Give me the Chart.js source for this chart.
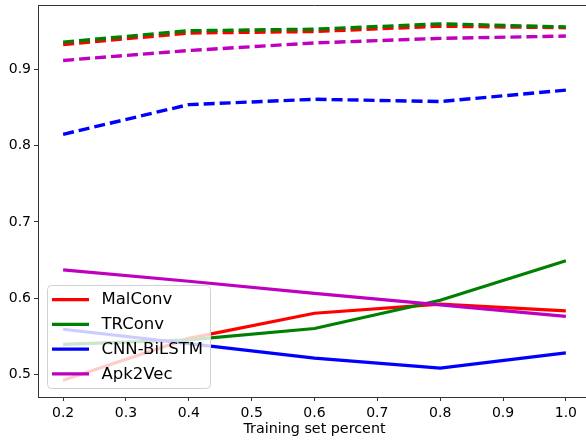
<!DOCTYPE html>
<html>
<head>
<meta charset="utf-8">
<script src="https://cdn.jsdelivr.net/npm/chart.js@4"></script>
<style>
html,body{margin:0;padding:0;background:#fff;overflow:hidden;width:586px;height:441px;}
#wrap{position:absolute;left:0;top:0;width:600px;height:441px;}
</style>
</head>
<body>
<div id="wrap"><canvas id="c" width="600" height="441"></canvas></div>
<script>
const trainPercent = [0.2, 0.4, 0.6, 0.8, 1.0];
const xTicks = [0.2, 0.3, 0.4, 0.5, 0.6, 0.7, 0.8, 0.9, 1.0];
const yTicks = [0.5, 0.6, 0.7, 0.8, 0.9];
const modelNames = ['MalConv', 'TRConv', 'CNN-BiLSTM', 'Apk2Vec'];
// dashed (upper) series
const malconvDashed = [0.933, 0.948, 0.950, 0.957, 0.955];
const trconvDashed  = [0.936, 0.951, 0.953, 0.960, 0.956];
const cnnDashed     = [0.815, 0.854, 0.861, 0.858, 0.873];
const apkDashed     = [0.912, 0.925, 0.935, 0.941, 0.944];
// solid (lower) series
const malconvSolid = [0.492, 0.547, 0.580, 0.592, 0.583];
const trconvSolid  = [0.539, 0.545, 0.560, 0.597, 0.649];
const cnnSolid     = [0.559, 0.540, 0.521, 0.508, 0.528];
const apkSolid     = [0.637, 0.622, 0.606, 0.591, 0.576];

const colors = ['#ff0000', '#008000', '#0000ff', '#bf00bf'];
const pts = arr => arr.map((v, i) => ({x: trainPercent[i], y: v}));
const solidSets = [malconvSolid, trconvSolid, cnnSolid, apkSolid];
const dashedSets = [malconvDashed, trconvDashed, cnnDashed, apkDashed];

const datasets = [];
// Chart.js draws dataset 0 on top; push in reverse plotting order
for (let i = 3; i >= 0; i--) {
  datasets.push({label: modelNames[i], data: pts(solidSets[i]), borderColor: colors[i],
    borderWidth: 3.2, pointRadius: 0, tension: 0, fill: false});
}
for (let i = 3; i >= 0; i--) {
  datasets.push({label: modelNames[i] + ' (dashed)', data: pts(dashedSets[i]), borderColor: colors[i],
    borderWidth: 3.4, borderDash: [11, 5], pointRadius: 0, tension: 0, fill: false});
}

const FONT = "'DejaVu Sans', sans-serif";

const framePlugin = {
  id: 'frame',
  afterDatasetsDraw(chart) {
    const {ctx, chartArea: a} = chart;
    ctx.save();
    ctx.strokeStyle = '#333';
    ctx.lineWidth = 1;
    ctx.beginPath();
    ctx.moveTo(a.left, a.top + 0.5);
    ctx.lineTo(a.right, a.top + 0.5);
    ctx.stroke();
    ctx.restore();
  },
  afterDraw(chart) {
    const {ctx, chartArea: a} = chart;
    ctx.save();
    const bx = a.left + 9, by = a.top + 280, bw = 163, bh = 103;
    ctx.beginPath();
    ctx.roundRect(bx + 0.5, by + 0.5, bw, bh, 4);
    ctx.fillStyle = 'rgba(255,255,255,0.8)';
    ctx.fill();
    ctx.strokeStyle = '#d0d0d0';
    ctx.lineWidth = 1;
    ctx.stroke();
    ctx.font = '16.5px ' + FONT;
    ctx.textBaseline = 'middle';
    ctx.fillStyle = '#000';
    for (let i = 0; i < modelNames.length; i++) {
      const y = by + 14.7 + i * 24.7;
      ctx.beginPath();
      ctx.moveTo(bx + 5, y);
      ctx.lineTo(bx + 42, y);
      ctx.strokeStyle = colors[i];
      ctx.lineWidth = 3.2;
      ctx.stroke();
      ctx.fillText(modelNames[i], bx + 54.5, y + 0.5);
    }
    ctx.restore();
  }
};

new Chart(document.getElementById('c'), {
  type: 'line',
  data: {datasets},
  options: {
    responsive: false,
    animation: false,
    layout: {padding: {top: 5, right: 9, left: 0, bottom: 0}},
    plugins: {legend: {display: false}, tooltip: {enabled: false}},
    scales: {
      x: {
        type: 'linear', min: 0.16, max: 1.04,
        afterBuildTicks: s => { s.ticks = xTicks.map(v => ({value: v})); },
        afterFit: s => { s.height = 44; s.paddingLeft = 0; s.paddingRight = 0; },
        grid: {drawOnChartArea: false, drawTicks: true, tickLength: 4, tickColor: '#333', lineWidth: 1},
        border: {color: '#333', width: 1},
        ticks: {color: '#000', font: {family: FONT, size: 14}, padding: 4, maxRotation: 0,
          callback: v => v.toFixed(1)},
        title: {display: true, text: 'Training set percent', color: '#000',
          font: {family: FONT, size: 14.3}, padding: {top: 0, bottom: 3}}
      },
      y: {
        type: 'linear', min: 0.4700, max: 0.9848,
        afterBuildTicks: s => { s.ticks = yTicks.map(v => ({value: v})); },
        afterFit: s => { s.width = 38; s.paddingTop = 0; s.paddingBottom = 0; },
        grid: {drawOnChartArea: false, drawTicks: true, tickLength: 4, tickColor: '#333', lineWidth: 1},
        border: {color: '#333', width: 1},
        ticks: {color: '#000', font: {family: FONT, size: 14}, padding: 3,
          callback: v => v.toFixed(1)}
      }
    }
  },
  plugins: [framePlugin]
});
</script>
</body>
</html>
